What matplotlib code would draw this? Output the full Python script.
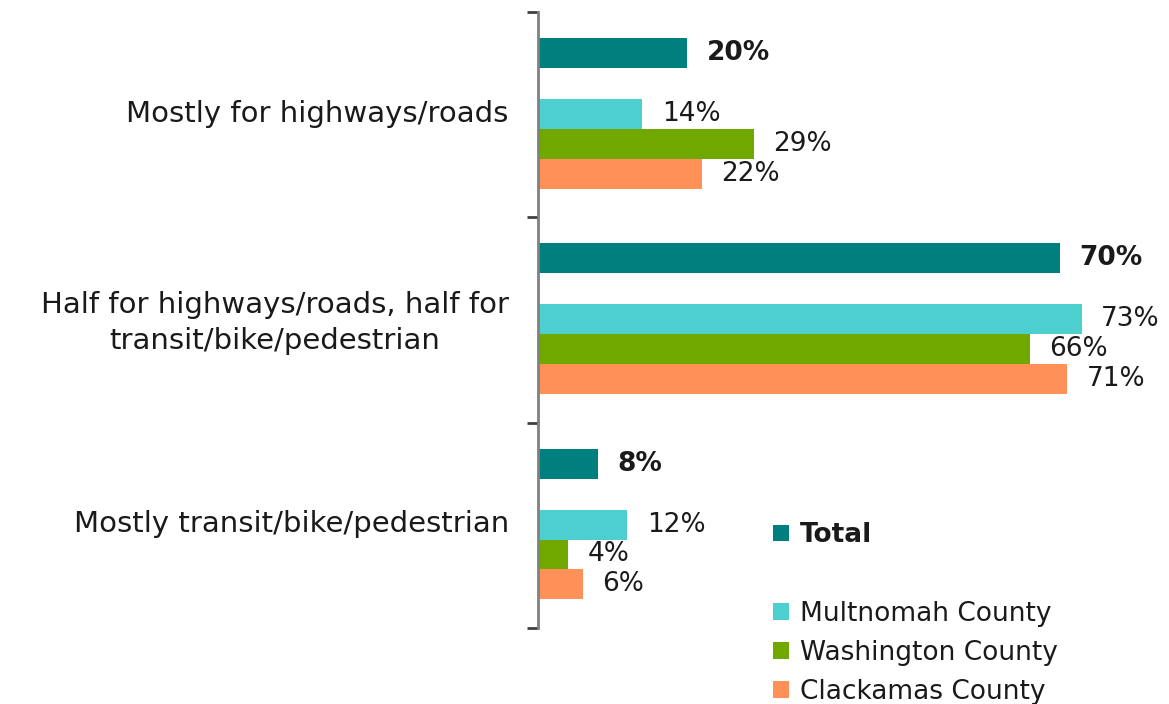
import numpy as np
import matplotlib
matplotlib.use("Agg")
import matplotlib.pyplot as plt
from matplotlib.patches import Patch

categories = ["Mostly for highways/roads",
              "Half for highways/roads, half for\ntransit/bike/pedestrian",
              "Mostly transit/bike/pedestrian"]
series = ["Total", "Multnomah County", "Washington County", "Clackamas County"]
total = [20, 70, 8]
multnomah = [14, 73, 12]
washington = [29, 66, 4]
clackamas = [22, 71, 6]

colors = ["#007F7F", "#4ECFCF", "#70A800", "#FF9158"]
offsets = [0.20, 0.497, 0.642, 0.787]   # bar centre inside each group (group = 1 unit)
bar_h = 0.146

fig = plt.figure(figsize=(11.69, 7.04), dpi=100)
ax = fig.add_axes([538 / 1169, 1 - 628 / 704, 631 / 1169, 616 / 704])

groups = np.arange(len(categories))
values = [total, multnomah, washington, clackamas]
for i, (name, vals) in enumerate(zip(series, values)):
    bars = ax.barh(groups + offsets[i], vals, height=bar_h, color=colors[i], label=name)
    ax.bar_label(bars, labels=["%d%%" % v for v in vals], padding=14,
                 fontsize=19, color="#1a1a1a",
                 fontweight="bold" if i == 0 else "normal")

ax.set_ylim(len(categories), 0)
ax.set_xlim(0, 631 / 7.45)

# ticks at group boundaries, labels at group centres
ax.set_yticks(np.arange(len(categories) + 1))
ax.set_yticklabels([])
ax.set_yticks(groups + 0.48, minor=True)
ax.set_yticklabels(categories, minor=True, fontsize=21, color="#1a1a1a",
                   multialignment="center", linespacing=1.35)
ax.tick_params(axis="y", which="major", length=8, width=2, color="#404040", direction="out")
ax.tick_params(axis="y", which="minor", length=0, pad=21)
ax.set_xticks([])
for s in ["top", "right", "bottom"]:
    ax.spines[s].set_visible(False)
ax.spines["left"].set_color("#808080")
ax.spines["left"].set_linewidth(2)

blank = Patch(facecolor="none", edgecolor="none")
handles = [Patch(facecolor=c) for c in colors]
leg = fig.legend([handles[0], blank, handles[1], handles[2], handles[3]],
                 ["Total", "", series[1], series[2], series[3]],
                 loc="upper left", bbox_to_anchor=(760 / 1169, 1 - 509 / 704),
                 frameon=False, fontsize=19, handlelength=0.6, handleheight=0.6,
                 handletextpad=0.4, labelspacing=0.5, borderpad=0)
leg.get_texts()[0].set_fontweight("bold")
for t in leg.get_texts():
    t.set_color("#1a1a1a")

fig.savefig("out.png", dpi=100)
